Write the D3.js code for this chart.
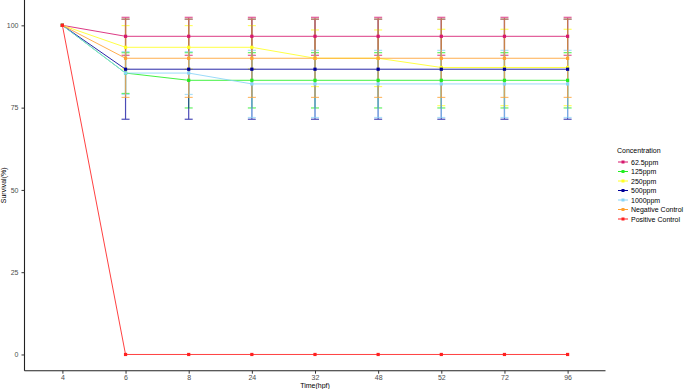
<!DOCTYPE html>
<html><head><meta charset="utf-8">
<script src="https://cdn.jsdelivr.net/npm/d3@7/dist/d3.min.js"></script>
<style>body{margin:0;background:#fff}svg{display:block}text{font-family:"Liberation Sans",Arial,sans-serif}</style>
</head><body><svg id="c" width="685" height="389"></svg>
<script>
const times = ["4","6","8","24","32","48","52","72","96"];
const seriesNames = ["62.5ppm","125ppm","250ppm","500ppm","1000ppm","Negative Control","Positive Control"];
const colors = ["#d6186e","#22ee22","#ffff22","#000099","#88d4f8","#ffa030","#ff2020"];
const means = [
  [100,96.67,96.67,96.67,96.67,96.67,96.67,96.67,96.67],
  [100,85.5,83.3,83.3,83.3,83.3,83.3,83.3,83.3],
  [100,93.33,93.33,93.33,90,90,87.2,87.2,87.2],
  [100,86.67,86.67,86.67,86.67,86.67,86.67,86.67,86.67],
  [100,85.5,85.5,82.2,82.2,82.2,82.2,82.2,82.2],
  [100,90,90,90,90,90,90,90,90],
  [100,0,0,0,0,0,0,0,0]
];
const sds = [
  [0,5.77,5.77,5.77,5.77,5.77,5.77,5.77,5.77],
  [0,6.2,8.4,8.4,8.4,8.4,8.4,8.4,8.4],
  [0,6.6,6.6,6.6,8.6,8.6,11.6,11.6,11.6],
  [0,15.2,15.2,15.2,15.2,15.2,15.2,15.2,15.2],
  [0,6.5,6.5,10.2,10.2,10.2,10.2,10.2,10.2],
  [0,11.9,11.9,11.9,11.9,11.9,11.9,11.9,11.9],
  [0,0,0,0,0,0,0,0,0]
];
const yTicks = [0,25,50,75,100];

const svg = d3.select("#c");
const L=24.5, R=605.5, T=0, B=370.7;
const x = d3.scalePoint().domain(times).range([L,R]).padding(0.6);
const y = d3.scaleLinear().domain([-4.93,107.7]).range([B,T]);

const data = seriesNames.map((n,i)=>({name:n,color:colors[i],pts:times.map((t,j)=>({t,m:means[i][j],s:sds[i][j]}))}));

// error bars
const eb = svg.append("g");
data.forEach(d=>{
  d.pts.forEach(p=>{
    if(p.s<=0) return;
    const cx=x(p.t), y1=y(p.m+p.s), y2=y(p.m-p.s);
    const g=eb.append("g").attr("stroke",d.color).attr("stroke-width",1.2).attr("opacity",0.7);
    g.append("line").attr("x1",cx).attr("x2",cx).attr("y1",y1).attr("y2",y2);
    g.append("line").attr("x1",cx-4).attr("x2",cx+4).attr("y1",y1).attr("y2",y1);
    g.append("line").attr("x1",cx-4).attr("x2",cx+4).attr("y1",y2).attr("y2",y2);
  });
});
// lines
const line=d3.line().x(p=>x(p.t)).y(p=>y(p.m));
data.forEach(d=>{
  svg.append("path").attr("d",line(d.pts)).attr("fill","none").attr("stroke",d.color).attr("stroke-width",1).attr("opacity",0.85);
});
// points
data.forEach(d=>{
  svg.append("g").selectAll("rect").data(d.pts).join("rect")
    .attr("x",p=>x(p.t)-1.6).attr("y",p=>y(p.m)-1.6).attr("width",3.2).attr("height",3.2).attr("fill",d.color);
});

// axes
const xa = svg.append("g").attr("transform",`translate(0,${B})`)
  .call(d3.axisBottom(x).tickSize(3).tickPadding(1.5));
const ya = svg.append("g").attr("transform",`translate(${L},0)`)
  .call(d3.axisLeft(y).tickValues(yTicks).tickSize(3).tickPadding(3));
[xa,ya].forEach(a=>{
  a.select(".domain").attr("stroke","#222").attr("stroke-width",1.1);
  a.selectAll(".tick line").attr("stroke","#333");
  a.selectAll(".tick text").attr("fill","#4d4d4d").attr("font-size",7).attr("font-family","Liberation Sans, Arial, sans-serif");
});
xa.select(".domain").attr("d",`M${L},0H${R}`);
ya.select(".domain").attr("d",`M0,${T}V${B}`);

svg.append("text").attr("x",(L+R)/2).attr("y",388).attr("text-anchor","middle").attr("font-size",7).attr("fill","#000").text("Time(hpf)");
svg.append("text").attr("transform",`translate(6,${(T+B)/2}) rotate(-90)`).attr("text-anchor","middle").attr("font-size",7).attr("fill","#000").text("Survival(%)");

// legend
const lg = svg.append("g").attr("transform","translate(617,150)");
lg.append("text").attr("x",0).attr("y",3).attr("font-size",7).attr("fill","#000").text("Concentration");
data.forEach((d,i)=>{
  const yy=12+i*9.5;
  lg.append("line").attr("x1",1).attr("x2",11).attr("y1",yy).attr("y2",yy).attr("stroke",d.color).attr("stroke-width",1);
  lg.append("rect").attr("x",4.5).attr("y",yy-1.5).attr("width",3).attr("height",3).attr("fill",d.color);
  lg.append("text").attr("x",14).attr("y",yy+2.5).attr("font-size",7).attr("fill","#000").text(d.name);
});
</script></body></html>
